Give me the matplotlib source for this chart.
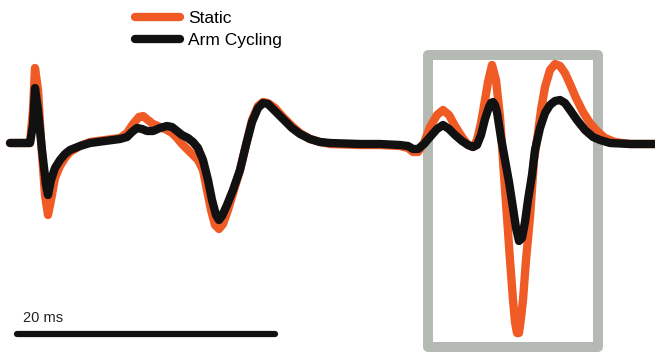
import numpy as np
import matplotlib
matplotlib.use("Agg")
import matplotlib.pyplot as plt
from matplotlib.patches import Rectangle

SAMPLES_PER_MS = 12.9  # time axis in samples

t_black = [10, 30, 33, 35, 38, 42, 46, 48, 51, 55,
           60, 65, 70, 80, 90, 105, 120, 127, 132, 137,
           142, 147, 153, 160, 167, 172, 177, 182, 188, 193,
           198, 203, 208, 212, 216, 219, 222, 227, 233, 240,
           246, 252, 258, 263, 268, 275, 283, 292, 300, 310,
           320, 330, 360, 380, 400, 408, 413, 418, 424, 430,
           437, 443, 449, 455, 462, 468, 473, 477, 481, 485,
           489, 491, 493, 495, 497, 501, 505, 509, 513, 516,
           519, 522, 525, 528, 532, 535, 540, 545, 550, 555,
           560, 565, 570, 577, 585, 593, 600, 610, 630, 655]
arm_cycling = [0, 0, 1.8, 5.5, 3.3, -0.7, -4.2, -5.2, -3.7, -2.5,
               -1.7, -1.1, -0.7, -0.3, 0, 0.2, 0.4, 0.6, 1.1, 1.5,
               1.4, 1.2, 1.2, 1.5, 1.7, 1.6, 1.2, 0.8, 0.5, 0.1,
               -0.5, -1.7, -3.7, -5.7, -7.2, -7.7, -7.3, -6.2, -4.7, -2.7,
               -0.2, 2.1, 3.5, 4.0, 3.9, 3.2, 2.4, 1.5, 0.9, 0.4,
               0.1, 0, -0.1, -0.1, -0.2, -0.3, -0.6, -0.6, -0.1, 0.6,
               1.4, 1.8, 1.4, 0.8, 0.2, -0.2, -0.4, -0.2, 0.8, 2.4,
               3.6, 4.0, 4.1, 3.8, 3.1, 0.5, -1.7, -3.9, -6.5, -8.5,
               -9.8, -9.5, -7.9, -5.7, -3.2, -0.7, 1.5, 3.0, 3.8, 4.2,
               4.3, 4.0, 3.3, 2.3, 1.3, 0.6, 0.3, 0, -0.1, -0.1]

t_static = [10, 30, 33, 35, 38, 41, 45, 48, 51, 55,
            60, 65, 70, 80, 90, 105, 120, 127, 133, 139,
            143, 148, 153, 160, 167, 172, 177, 182, 188, 193,
            198, 203, 207, 211, 215, 219, 223, 228, 234, 240,
            246, 252, 258, 263, 268, 275, 283, 292, 300, 310,
            320, 330, 360, 380, 400, 408, 413, 418, 424, 430,
            437, 443, 449, 455, 462, 468, 473, 477, 481, 485,
            488, 492, 496, 500, 504, 507, 510, 513, 515, 517,
            519, 521, 523, 526, 530, 534, 538, 541, 545, 550,
            555, 560, 565, 570, 576, 583, 590, 597, 605, 615,
            630, 655]
static = [0, 0, 3.3, 7.5, 5.3, 0.3, -5.2, -7.2, -5.7, -3.5,
          -2.3, -1.5, -0.9, -0.3, 0.1, 0.3, 0.5, 1.0, 1.9, 2.6,
          2.7, 2.3, 1.9, 1.6, 1.3, 1.0, 0.5, -0.1, -0.7, -1.2,
          -1.7, -2.7, -4.7, -6.7, -8.2, -8.6, -8.1, -6.7, -4.7, -2.7,
          -0.2, 2.3, 3.7, 4.1, 4.0, 3.5, 2.6, 1.7, 1.0, 0.4,
          0.1, -0.1, -0.2, -0.2, -0.3, -0.5, -0.9, -0.9, 0.0, 1.6,
          2.8, 3.3, 2.8, 1.7, 0.6, -0.2, -0.4, 0.3, 2.0, 4.3,
          6.1, 7.8, 6.3, 2.6, -3.2, -7.4, -11.7, -15.7, -17.9, -19.0,
          -19.0, -17.5, -15.7, -11.7, -7.4, -1.7, 1.0, 3.3, 5.6, 7.3,
          7.9, 7.7, 7.0, 5.9, 4.5, 3.1, 2.0, 1.2, 0.5, 0.1,
          -0.1, -0.1]

labels = ["Static", "Arm Cycling"]
scale_ms = 20
box_t = (428, 598)       # highlighted window (samples)
box_amp = (-20.4, 8.8)

ORANGE = "#f05a24"
BLACK = "#111111"
GREY = "#b4bab3"

plt.rcParams['font.family'] = ['Liberation Sans', 'DejaVu Sans']

fig = plt.figure(figsize=(6.55, 3.52), dpi=100)
ax = fig.add_axes([0, 0, 1, 1])
ax.set_xlim(0, 655)
ax.set_ylim(-20.9, 14.3)
ax.axis('off')

ax.add_patch(Rectangle((box_t[0], box_amp[0]), box_t[1] - box_t[0],
                       box_amp[1] - box_amp[0], fill=False,
                       edgecolor=GREY, linewidth=7.2, joinstyle='round', zorder=1))

l1, = ax.plot(t_static, static, color=ORANGE, lw=6, solid_joinstyle='round',
              solid_capstyle='round', zorder=2, label=labels[0])
l2, = ax.plot(t_black, arm_cycling, color=BLACK, lw=6, solid_joinstyle='round',
              solid_capstyle='round', zorder=3, label=labels[1])

# scale bar
ax.plot([17, 17 + scale_ms * SAMPLES_PER_MS], [-19.1, -19.1], color=BLACK,
        lw=4.5, solid_capstyle='round')
ax.text(23, -17.5, f"{scale_ms} ms", fontsize=10.5, va='center', ha='left',
        color='#222222')

leg = ax.legend(handles=[l1, l2], loc='upper left',
                bbox_to_anchor=(135 / 655, 1 - 11 / 352), frameon=False,
                fontsize=12.5, handlelength=2.6, handletextpad=0.45,
                labelspacing=0.38, borderpad=0, borderaxespad=0)

fig.savefig("out.png", dpi=100)
